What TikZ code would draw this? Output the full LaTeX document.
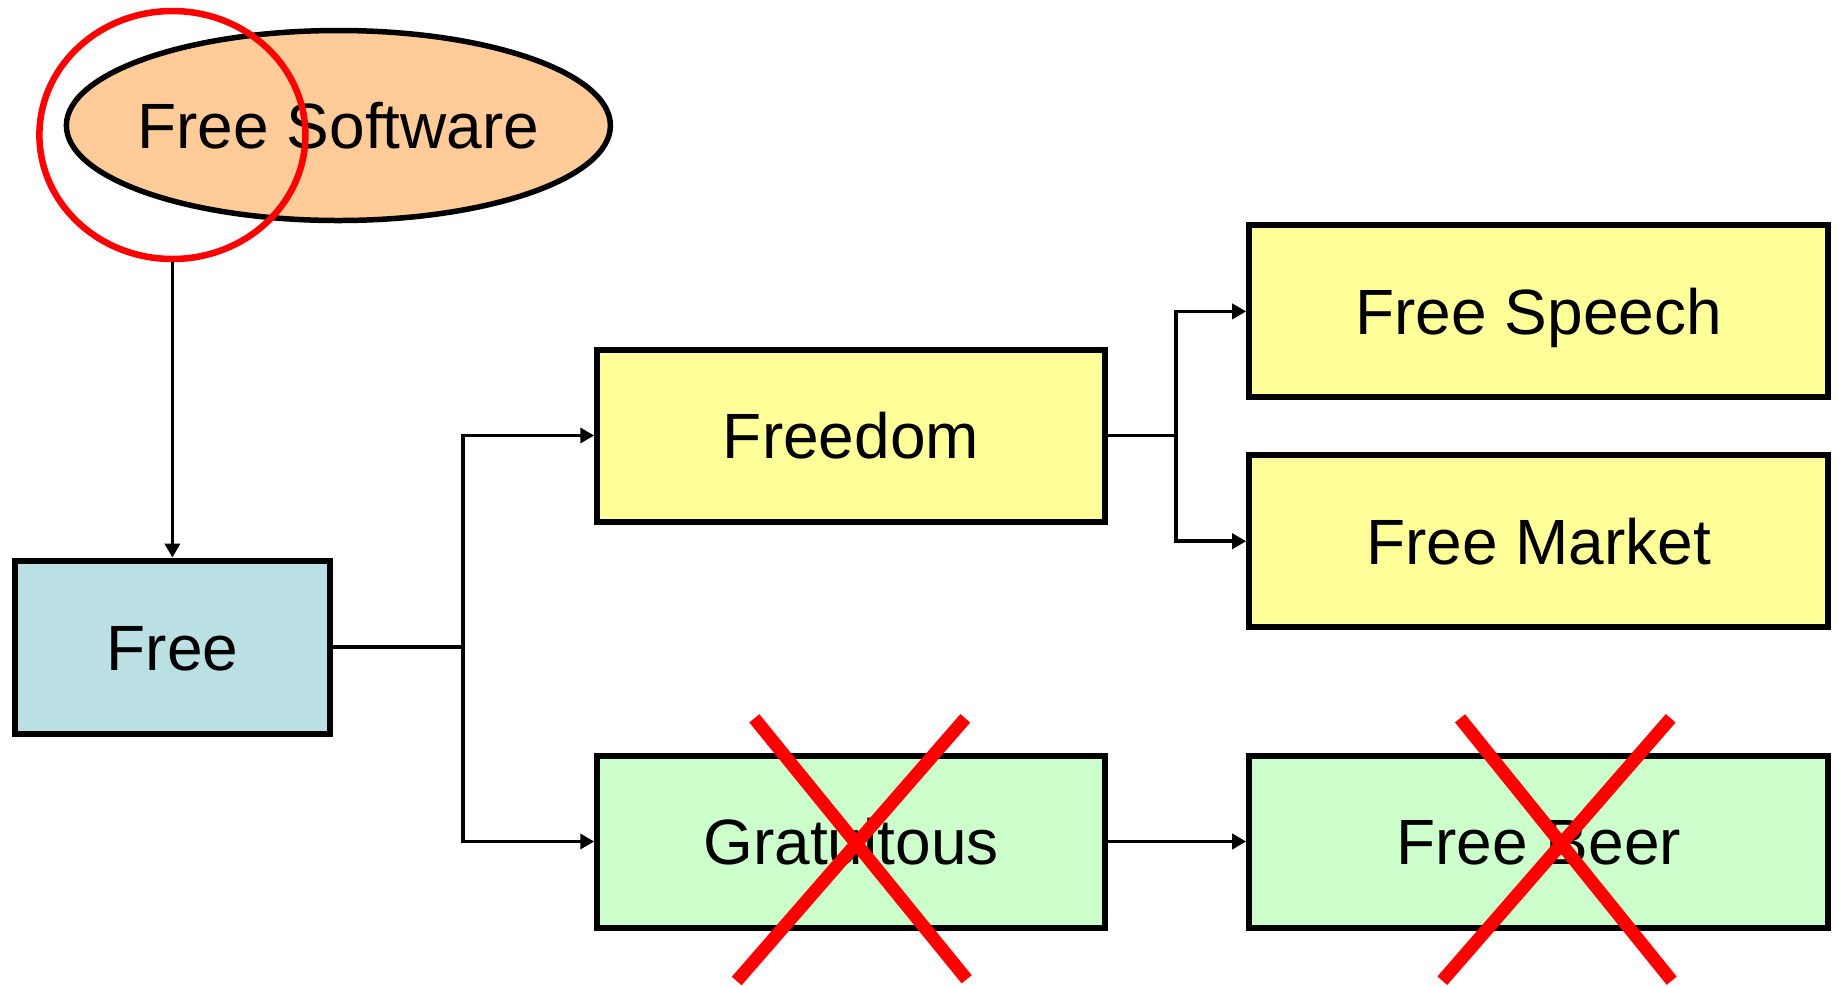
\documentclass[tikz,border=0pt]{standalone}
\usepackage{fontspec}
\setmainfont{Liberation Sans}
\usetikzlibrary{arrows.meta,shapes.geometric}

\definecolor{freeblue}{HTML}{BBE0E3}
\definecolor{softorange}{HTML}{FFCC99}
\definecolor{softyellow}{HTML}{FFFF99}
\definecolor{softgreen}{HTML}{CCFFCC}

\begin{document}
\begin{tikzpicture}[x=0.5pt,y=0.5pt,yscale=-1,xscale=1,
  box/.style={draw,line width=3pt,inner sep=0pt,minimum height=86pt,
    text height=23pt,text depth=0pt,font=\fontsize{32}{38}\selectfont},
  link/.style={line width=1.9pt},
  arr/.style={link,-{Triangle[length=7pt,width=7.5pt]}},
  redx/.style={draw=red,line width=6.5pt}]
\useasboundingbox (0,0) rectangle (1839,986);

% Ellipse
\node (freesw) [box,ellipse,line width=2.75pt,fill=softorange,inner xsep=-6pt,minimum width=272pt,minimum height=95pt] at (338.4,125.5) {Free Software};
% Red ring
\node (ring) [ellipse,draw=red,line width=3.25pt,inner sep=0pt,minimum width=133pt,minimum height=124pt] at (172.4,135) {};

% Boxes
\node (free) [box,fill=freeblue,minimum width=157.5pt,minimum height=86.75pt] at (172.4,647.3) {Free};
\node (freedom) [box,fill=softyellow,minimum width=253.75pt] at (851,435.5) {Freedom};
\node (gratuitous) [box,fill=softgreen,minimum width=253.75pt] at (851,841.5) {Gratuitous};
\node (speech) [box,fill=softyellow,minimum width=289.5pt] at (1538.7,311.4) {Free Speech};
\node (market) [box,fill=softyellow,minimum width=289.5pt] at (1538.7,541.2) {Free Market};
\node (beer) [box,fill=softgreen,minimum width=289.5pt] at (1538.7,841.5) {Free Beer};

% Branch points
\coordinate (split1) at (462.7,647.3);
\coordinate (split2) at (1176.3,435.5);

% Connectors
\draw[arr] (ring.south) -- (free.north);
\draw[link] (free.east) -- (split1);
\draw[arr] (split1) |- (freedom.west);
\draw[arr] (split1) |- (gratuitous.west);
\draw[link] (freedom.east) -- (split2);
\draw[arr] (split2) |- (speech.west);
\draw[arr] (split2) |- (market.west);
\draw[arr] (gratuitous.east) -- (beer.west);

% Red crosses
\draw[redx] (754.3,718.3) -- (966.7,979.3);
\draw[redx] (965.3,718.3) -- (736.7,981);
\draw[redx] (1460,718.3) -- (1671.7,980.7);
\draw[redx] (1670.7,718.3) -- (1442.3,980.7);

\end{tikzpicture}
\end{document}
